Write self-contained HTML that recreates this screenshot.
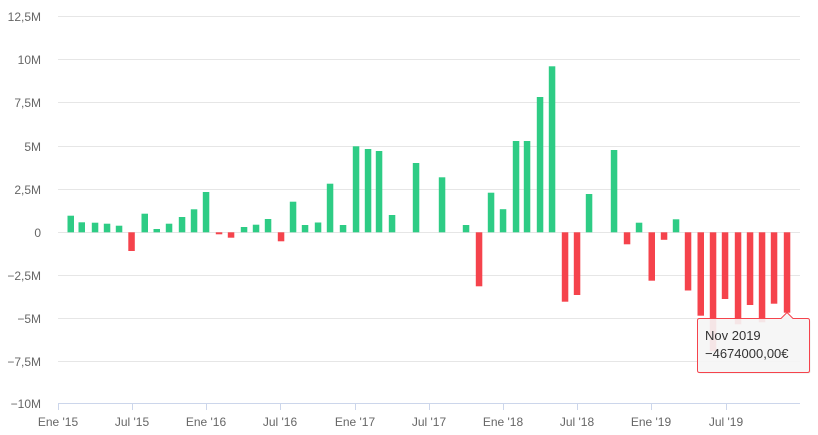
<!DOCTYPE html>
<html><head><meta charset="utf-8"><style>
html,body{margin:0;padding:0;background:#fff;}
svg{display:block;font-family:"Liberation Sans",sans-serif;}
</style></head><body>
<svg width="818" height="435" viewBox="0 0 818 435" xmlns="http://www.w3.org/2000/svg">
<g stroke="#e6e6e6" stroke-width="1">
<line x1="58" x2="800" y1="16.5" y2="16.5"/>
<line x1="58" x2="800" y1="59.5" y2="59.5"/>
<line x1="58" x2="800" y1="102.5" y2="102.5"/>
<line x1="58" x2="800" y1="146.5" y2="146.5"/>
<line x1="58" x2="800" y1="189.5" y2="189.5"/>
<line x1="58" x2="800" y1="232.5" y2="232.5"/>
<line x1="58" x2="800" y1="275.5" y2="275.5"/>
<line x1="58" x2="800" y1="318.5" y2="318.5"/>
<line x1="58" x2="800" y1="361.5" y2="361.5"/>
</g>
<line x1="58" x2="800" y1="403.5" y2="403.5" stroke="#ccd6eb"/>
<g stroke="#ccd6eb">
<line x1="58.5" x2="58.5" y1="403" y2="410"/>
<line x1="132.5" x2="132.5" y1="403" y2="410"/>
<line x1="206.5" x2="206.5" y1="403" y2="410"/>
<line x1="280.5" x2="280.5" y1="403" y2="410"/>
<line x1="355.5" x2="355.5" y1="403" y2="410"/>
<line x1="429.5" x2="429.5" y1="403" y2="410"/>
<line x1="503.5" x2="503.5" y1="403" y2="410"/>
<line x1="577.5" x2="577.5" y1="403" y2="410"/>
<line x1="651.5" x2="651.5" y1="403" y2="410"/>
<line x1="726.5" x2="726.5" y1="403" y2="410"/>
</g>
<g fill="#666" font-size="12" text-anchor="end">
<text x="41" y="21">12,5M</text>
<text x="41" y="64">10M</text>
<text x="41" y="107">7,5M</text>
<text x="41" y="151">5M</text>
<text x="41" y="194">2,5M</text>
<text x="41" y="237">0</text>
<text x="41" y="280">−2,5M</text>
<text x="41" y="323">−5M</text>
<text x="41" y="366">−7,5M</text>
<text x="41" y="408">−10M</text>
</g>
<g fill="#666" font-size="12" text-anchor="middle">
<text x="58" y="426">Ene '15</text>
<text x="132" y="426">Jul '15</text>
<text x="206" y="426">Ene '16</text>
<text x="280" y="426">Jul '16</text>
<text x="355" y="426">Ene '17</text>
<text x="429" y="426">Jul '17</text>
<text x="503" y="426">Ene '18</text>
<text x="577" y="426">Jul '18</text>
<text x="651" y="426">Ene '19</text>
<text x="726" y="426">Jul '19</text>
</g>
<g fill="#2ecc85">
<rect x="67.5" y="215.7" width="6.5" height="16.6"/>
<rect x="78.5" y="222.3" width="6.5" height="10"/>
<rect x="91.8" y="222.7" width="6.5" height="9.6"/>
<rect x="103.8" y="223.7" width="6.5" height="8.6"/>
<rect x="115.8" y="225.7" width="6.5" height="6.6"/>
<rect x="141.5" y="213.7" width="6.5" height="18.6"/>
<rect x="153.5" y="229" width="6.5" height="3.3"/>
<rect x="165.8" y="223.7" width="6.5" height="8.6"/>
<rect x="178.8" y="217" width="6.5" height="15.3"/>
<rect x="190.8" y="209.3" width="6.5" height="23"/>
<rect x="202.8" y="192" width="6.5" height="40.3"/>
<rect x="240.8" y="227" width="6.5" height="5.3"/>
<rect x="252.8" y="224.7" width="6.5" height="7.6"/>
<rect x="264.8" y="219" width="6.5" height="13.3"/>
<rect x="289.8" y="201.7" width="6.5" height="30.6"/>
<rect x="301.8" y="225" width="6.5" height="7.3"/>
<rect x="314.8" y="222.5" width="6.5" height="9.8"/>
<rect x="326.8" y="183.7" width="6.5" height="48.6"/>
<rect x="339.8" y="225" width="6.5" height="7.3"/>
<rect x="352.8" y="146.3" width="6.5" height="86"/>
<rect x="364.8" y="149" width="6.5" height="83.3"/>
<rect x="375.8" y="151" width="6.5" height="81.3"/>
<rect x="388.8" y="215" width="6.5" height="17.3"/>
<rect x="412.8" y="163" width="6.5" height="69.3"/>
<rect x="438.8" y="177.3" width="6.5" height="55"/>
<rect x="462.8" y="225" width="6.5" height="7.3"/>
<rect x="487.8" y="192.7" width="6.5" height="39.6"/>
<rect x="499.8" y="209.2" width="6.5" height="23.1"/>
<rect x="512.8" y="141" width="6.5" height="91.3"/>
<rect x="523.8" y="141" width="6.5" height="91.3"/>
<rect x="536.8" y="97" width="6.5" height="135.3"/>
<rect x="548.8" y="66.3" width="6.5" height="166"/>
<rect x="585.8" y="194" width="6.5" height="38.3"/>
<rect x="610.8" y="150" width="6.5" height="82.3"/>
<rect x="635.8" y="222.7" width="6.5" height="9.6"/>
<rect x="672.8" y="219.3" width="6.5" height="13"/>
</g>
<g fill="#f5434c">
<rect x="128.3" y="232.3" width="6.5" height="18.7"/>
<rect x="215.8" y="232.3" width="6.5" height="2"/>
<rect x="227.8" y="232.3" width="6.5" height="5.4"/>
<rect x="277.8" y="232.3" width="6.5" height="9"/>
<rect x="475.8" y="232.3" width="6.5" height="54"/>
<rect x="561.8" y="232.3" width="6.5" height="69.4"/>
<rect x="573.8" y="232.3" width="6.5" height="62.7"/>
<rect x="623.8" y="232.3" width="6.5" height="12"/>
<rect x="648.5" y="232.3" width="6.5" height="48.4"/>
<rect x="660.8" y="232.3" width="6.5" height="7.5"/>
<rect x="684.8" y="232.3" width="6.5" height="58.2"/>
<rect x="697.5" y="232.3" width="6.5" height="83.4"/>
<rect x="709.8" y="232.3" width="6.5" height="119"/>
<rect x="721.8" y="232.3" width="6.5" height="66.7"/>
<rect x="734.8" y="232.3" width="6.5" height="92"/>
<rect x="746.8" y="232.3" width="6.5" height="72.7"/>
<rect x="758.8" y="232.3" width="6.5" height="90"/>
<rect x="770.8" y="232.3" width="6.5" height="71.4"/>
<rect x="783.8" y="232.3" width="6.5" height="80.4"/>
</g>
<path d="M700.5 319.5 H781 L787 313.5 L793 319.5 H808.5 Q810.5 319.5 810.5 321.5 V371.5 Q810.5 373.5 808.5 373.5 H700.5 Q698.5 373.5 698.5 371.5 V321.5 Q698.5 319.5 700.5 319.5 Z" fill="rgba(0,0,0,0.08)"/>
<path d="M699.5 318.5 H781 L787 312.5 L793 318.5 H807.5 Q809.5 318.5 809.5 320.5 V370.5 Q809.5 372.5 807.5 372.5 H699.5 Q697.5 372.5 697.5 370.5 V320.5 Q697.5 318.5 699.5 318.5 Z" fill="rgba(247,247,247,0.9)" stroke="#f5434c" stroke-width="1"/>
<g fill="#333" font-size="13">
<text x="705" y="340">Nov 2019</text>
<text x="705" y="358">−4674000,00€</text>
</g>
</svg>
</body></html>
